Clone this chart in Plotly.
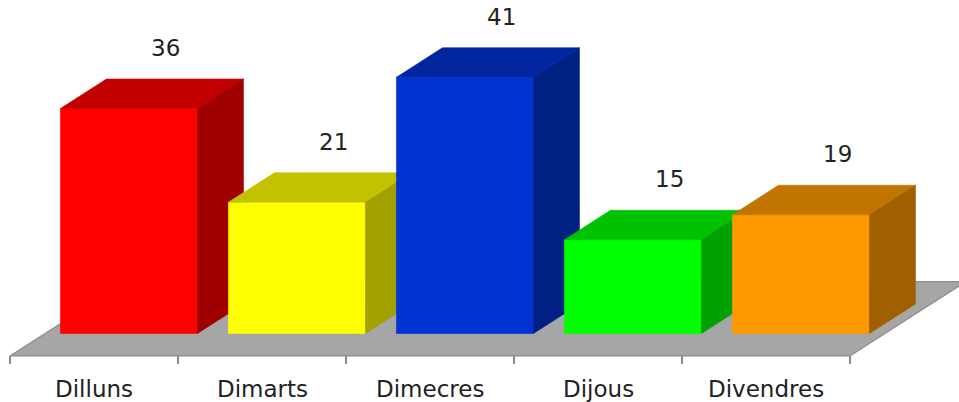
"""3D-style column chart (Excel look) of counts per weekday, drawn with filled scatter faces."""
import plotly.graph_objects as go

DAYS = ["Dilluns", "Dimarts", "Dimecres", "Dijous", "Divendres"]
COUNTS = [36, 21, 41, 15, 19]

FRONT = [
    (255, 0, 0), (255, 255, 0), (0, 51, 210), (0, 255, 0), (255, 153, 0),
]
TOP_SHADE, SIDE_SHADE = 0.76, 0.63
FLOOR_FILL, FLOOR_EDGE = "rgb(166,166,166)", "rgb(140,140,140)"
TEXT = "#222222"
FONT = "DejaVu Sans"

W, H = 959, 402

# projection: one category = 168 px, one value unit = 6.25 px,
# one bar depth shifts 46 px right and 29.5 px up
PX_CAT, PX_VAL = 168.0, 6.25
X0_PX, Y0_PX = 10.0, 333.5
DX, DY = 46 / PX_CAT, 29.5 / PX_VAL
GAP = (PX_CAT - 137) / 2 / PX_CAT
D_FRONT, D_BACK = -0.76, 1.76
TICK_LEN = 8 / PX_VAL


def proj(u, v, d):
    return u + d * DX, v + d * DY


def rgb(c, k=1.0):
    return "rgb(%d,%d,%d)" % tuple(round(x * k) for x in c)


def face(fig, pts, color, edge=None, width=0.6):
    xy = [proj(*p) for p in pts]
    xs = [p[0] for p in xy] + [xy[0][0]]
    ys = [p[1] for p in xy] + [xy[0][1]]
    fig.add_trace(go.Scatter(
        x=xs, y=ys, mode="lines", fill="toself", fillcolor=color,
        line=dict(color=edge or color, width=width),
        hoverinfo="skip", showlegend=False,
    ))


fig = go.Figure()
n = len(DAYS)

# floor
face(fig, [(0, 0, D_FRONT), (n, 0, D_FRONT), (n, 0, D_BACK), (0, 0, D_BACK)],
     FLOOR_FILL, FLOOR_EDGE, 1.2)

# category ticks under the front edge of the floor
for i in range(n + 1):
    x0, y0 = proj(i, 0, D_FRONT)
    fig.add_trace(go.Scatter(
        x=[x0, x0], y=[y0, y0 - TICK_LEN], mode="lines",
        line=dict(color=FLOOR_EDGE, width=2),
        hoverinfo="skip", showlegend=False,
    ))

# bars, left to right so later fronts cover earlier sides
for i, (day, v) in enumerate(zip(DAYS, COUNTS)):
    u0, u1 = i + GAP, i + 1 - GAP
    c = FRONT[i]
    face(fig, [(u0, 0, 0), (u1, 0, 0), (u1, v, 0), (u0, v, 0)], rgb(c))
    face(fig, [(u0, v, 0), (u1, v, 0), (u1, v, 1), (u0, v, 1)], rgb(c, TOP_SHADE))
    face(fig, [(u1, 0, 0), (u1, 0, 1), (u1, v, 1), (u1, v, 0)], rgb(c, SIDE_SHADE))

    lx, _ = proj(i + 0.5, v, 0.8)
    _, ly = proj(i + 0.5, v, 1)
    fig.add_annotation(x=lx, y=ly, yshift=31, text=str(v), showarrow=False,
                       xanchor="center", yanchor="middle",
                       font=dict(family=FONT, size=23, color=TEXT))

    cx, cy = proj(i + 0.5, 0, D_FRONT)
    fig.add_annotation(x=cx, y=cy, yshift=-33, text=day, showarrow=False,
                       xanchor="center", yanchor="middle",
                       font=dict(family=FONT, size=23, color=TEXT))

s_off = D_FRONT * DX
fig.update_layout(
    width=W, height=H, autosize=False,
    margin=dict(l=0, r=0, t=0, b=0),
    paper_bgcolor="white", plot_bgcolor="white",
    xaxis=dict(range=[-X0_PX / PX_CAT + s_off, (W - X0_PX) / PX_CAT + s_off],
               visible=False, fixedrange=True),
    yaxis=dict(range=[(Y0_PX - H) / PX_VAL, Y0_PX / PX_VAL],
               visible=False, fixedrange=True),
    showlegend=False,
)

# drop the browser's default 8px body margin so the figure sits at (0, 0)
fig.write_html("out.html", config={"displayModeBar": False},
               post_script="document.body.style.margin='0';"
                           "document.body.style.overflow='hidden';")
